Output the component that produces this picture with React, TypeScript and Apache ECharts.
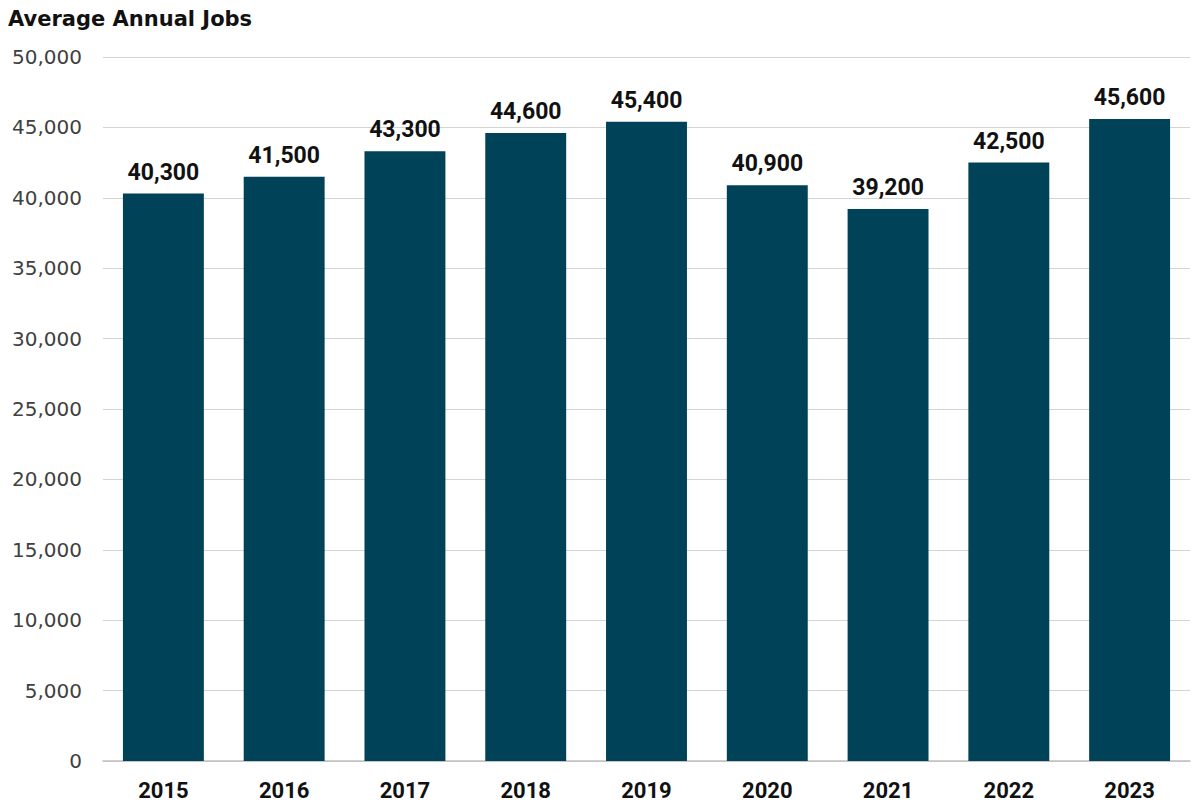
import React, { useEffect, useRef } from "react";
import * as echarts from "echarts";

const years = ["2015", "2016", "2017", "2018", "2019", "2020", "2021", "2022", "2023"];
const jobs = [40300, 41500, 43300, 44600, 45400, 40900, 39200, 42500, 45600];
const chartTitle = "Average Annual Jobs";

const fmt = (v: number) => v.toLocaleString("en-US");

export default function App() {
  const ref = useRef<HTMLDivElement>(null);
  useEffect(() => {
    if (!ref.current) return;
    const chart = echarts.init(ref.current, null, { renderer: "svg" });
    chart.setOption({
      animation: false,
      backgroundColor: "#ffffff",
      title: {
        text: chartTitle,
        left: 0,
        top: 0,
        padding: 0,
        textStyle: { fontFamily: "DejaVu Sans", fontWeight: "bold", fontSize: 21, color: "#111" },
      },
      grid: { left: 95, right: 9, top: 49, bottom: 46, containLabel: false },
      xAxis: {
        type: "category",
        data: years,
        axisLine: { show: true, lineStyle: { color: "#bfbfbf", width: 1.5 } },
        axisTick: { show: false },
        axisLabel: {
          margin: 18,
          fontFamily: "Roboto",
          fontWeight: "bold",
          fontSize: 22,
          color: "#111",
        },
      },
      yAxis: {
        type: "value",
        min: 0,
        max: 50000,
        interval: 5000,
        axisLine: { show: false },
        axisTick: { show: false },
        splitLine: { lineStyle: { color: "#d4d4d4", width: 1 } },
        axisLabel: {
          margin: 21,
          fontFamily: "DejaVu Sans",
          fontSize: 20,
          color: "#404040",
          formatter: (v: number) => fmt(v),
        },
      },
      series: [
        {
          type: "bar",
          data: jobs,
          barCategoryGap: "33%",
          itemStyle: { color: "#004257" },
          label: {
            show: true,
            position: "top",
            distance: 10,
            fontFamily: "Roboto",
            fontWeight: "bold",
            fontSize: 23,
            color: "#111",
            formatter: (p: any) => fmt(p.value),
          },
        },
      ],
    });
    return () => chart.dispose();
  }, []);
  return <div ref={ref} style={{ width: 1191, height: 799 }} />;
}
